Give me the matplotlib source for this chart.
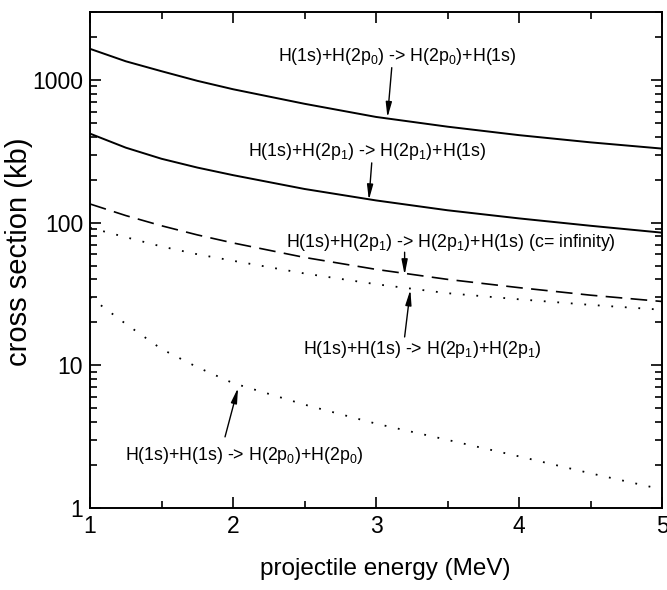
import numpy as np
import matplotlib
matplotlib.use("Agg")
import matplotlib.pyplot as plt
from matplotlib.ticker import LogLocator, NullFormatter, MultipleLocator

FONT = "Liberation Sans"
plt.rcParams["font.family"] = [FONT, "DejaVu Sans"]
plt.rcParams["mathtext.fontset"] = "custom"
plt.rcParams["mathtext.rm"] = FONT
plt.rcParams["mathtext.it"] = FONT

# projectile energy (MeV)
energy = [1.0, 1.25, 1.5, 1.75, 2.0, 2.5, 3.0, 3.5, 4.0, 4.5, 5.0]

# cross sections (kb)
exch_2p0 = [1650, 1350, 1150, 985, 860, 680, 550, 470, 410, 365, 330]
exch_2p1 = [420, 335, 280, 243, 215, 172, 143, 122, 107, 95, 85]
exch_2p1_cinf = [135, 112, 95, 82, 72, 57, 47, 40, 35, 31, 28]
exc_2p1_2p1 = [92, 79, 68, 60, 54, 44, 37, 32, 29, 26.5, 24.5]
exc_2p0_2p0 = [30, 19.5, 13, 9.7, 7.5, 5.3, 3.9, 3.0, 2.3, 1.75, 1.35]

labels = [
    "H(1s)+H(2p$_0$) -> H(2p$_0$)+H(1s)",
    "H(1s)+H(2p$_1$) -> H(2p$_1$)+H(1s)",
    "H(1s)+H(2p$_1$) -> H(2p$_1$)+H(1s) (c= infinity)",
    "H(1s)+H(1s) -> H(2p$_1$)+H(2p$_1$)",
    "H(1s)+H(1s) -> H(2p$_0$)+H(2p$_0$)",
]
label_pos = [(2.315, 1455), (2.105, 314), (2.371, 72), (2.49, 12.8), (1.245, 2.35)]
arrow_tail = [(3.11, 1218), (2.97, 262), (3.2, 62), (3.2, 15.8), (1.944, 3.15)]
arrow_tip = [(3.08, 545), (2.95, 144), (3.2, 43), (3.24, 33.8), (2.035, 6.95)]

fig = plt.figure(figsize=(6.67, 5.90), dpi=100)
ax = fig.add_axes([0.135, 0.139, 0.8575, 0.841])

ax.plot(energy, exch_2p0, color="k", lw=1.4, ls="-")
ax.plot(energy, exch_2p1, color="k", lw=1.4, ls="-")
ax.plot(energy, exch_2p1_cinf, color="k", lw=1.2, ls=(0, (10, 5)))
ax.plot(energy, exc_2p1_2p1, color="k", lw=1.3, ls=(0, (1, 6.5)))
ax.plot(energy, exc_2p0_2p0, color="k", lw=1.3, ls=(0, (1, 6.5)))

for lab, pos in zip(labels, label_pos):
    ax.text(pos[0], pos[1], lab, fontsize=12.8, ha="left", va="center")
for tail, tip in zip(arrow_tail, arrow_tip):
    ax.annotate("", xy=tip, xytext=tail,
                arrowprops=dict(arrowstyle="-|>,head_length=0.9,head_width=0.18",
                                color="k", lw=1, shrinkA=0, shrinkB=0))

ax.set_yscale("log")
ax.set_xlim(1, 5)
ax.set_ylim(1, 3000)
ax.xaxis.set_major_locator(MultipleLocator(1))
ax.xaxis.set_minor_locator(MultipleLocator(0.5))
ax.yaxis.set_major_locator(LogLocator(base=10))
ax.yaxis.set_minor_locator(LogLocator(base=10, subs=np.arange(2, 10)))
ax.yaxis.set_minor_formatter(NullFormatter())
ax.set_yticks([1, 10, 100, 1000])
ax.set_yticklabels(["1", "10", "100", "1000"])
ax.set_xticks([1, 2, 3, 4, 5])
ax.set_xticklabels(["1", "2", "3", "4", "5"])

ax.tick_params(which="both", direction="in", top=True, right=True, width=1.2)
ax.tick_params(which="major", length=8, labelsize=16.5, pad=5)
ax.tick_params(which="minor", length=5)
for s in ax.spines.values():
    s.set_linewidth(1.4)

ax.set_xlabel("projectile energy (MeV)", fontsize=17.5)
ax.set_ylabel("cross section (kb)", fontsize=21)
ax.xaxis.set_label_coords(0.517, -0.1)
ax.yaxis.set_label_coords(-0.1, 0.516)

fig.savefig("out.png", dpi=100)
